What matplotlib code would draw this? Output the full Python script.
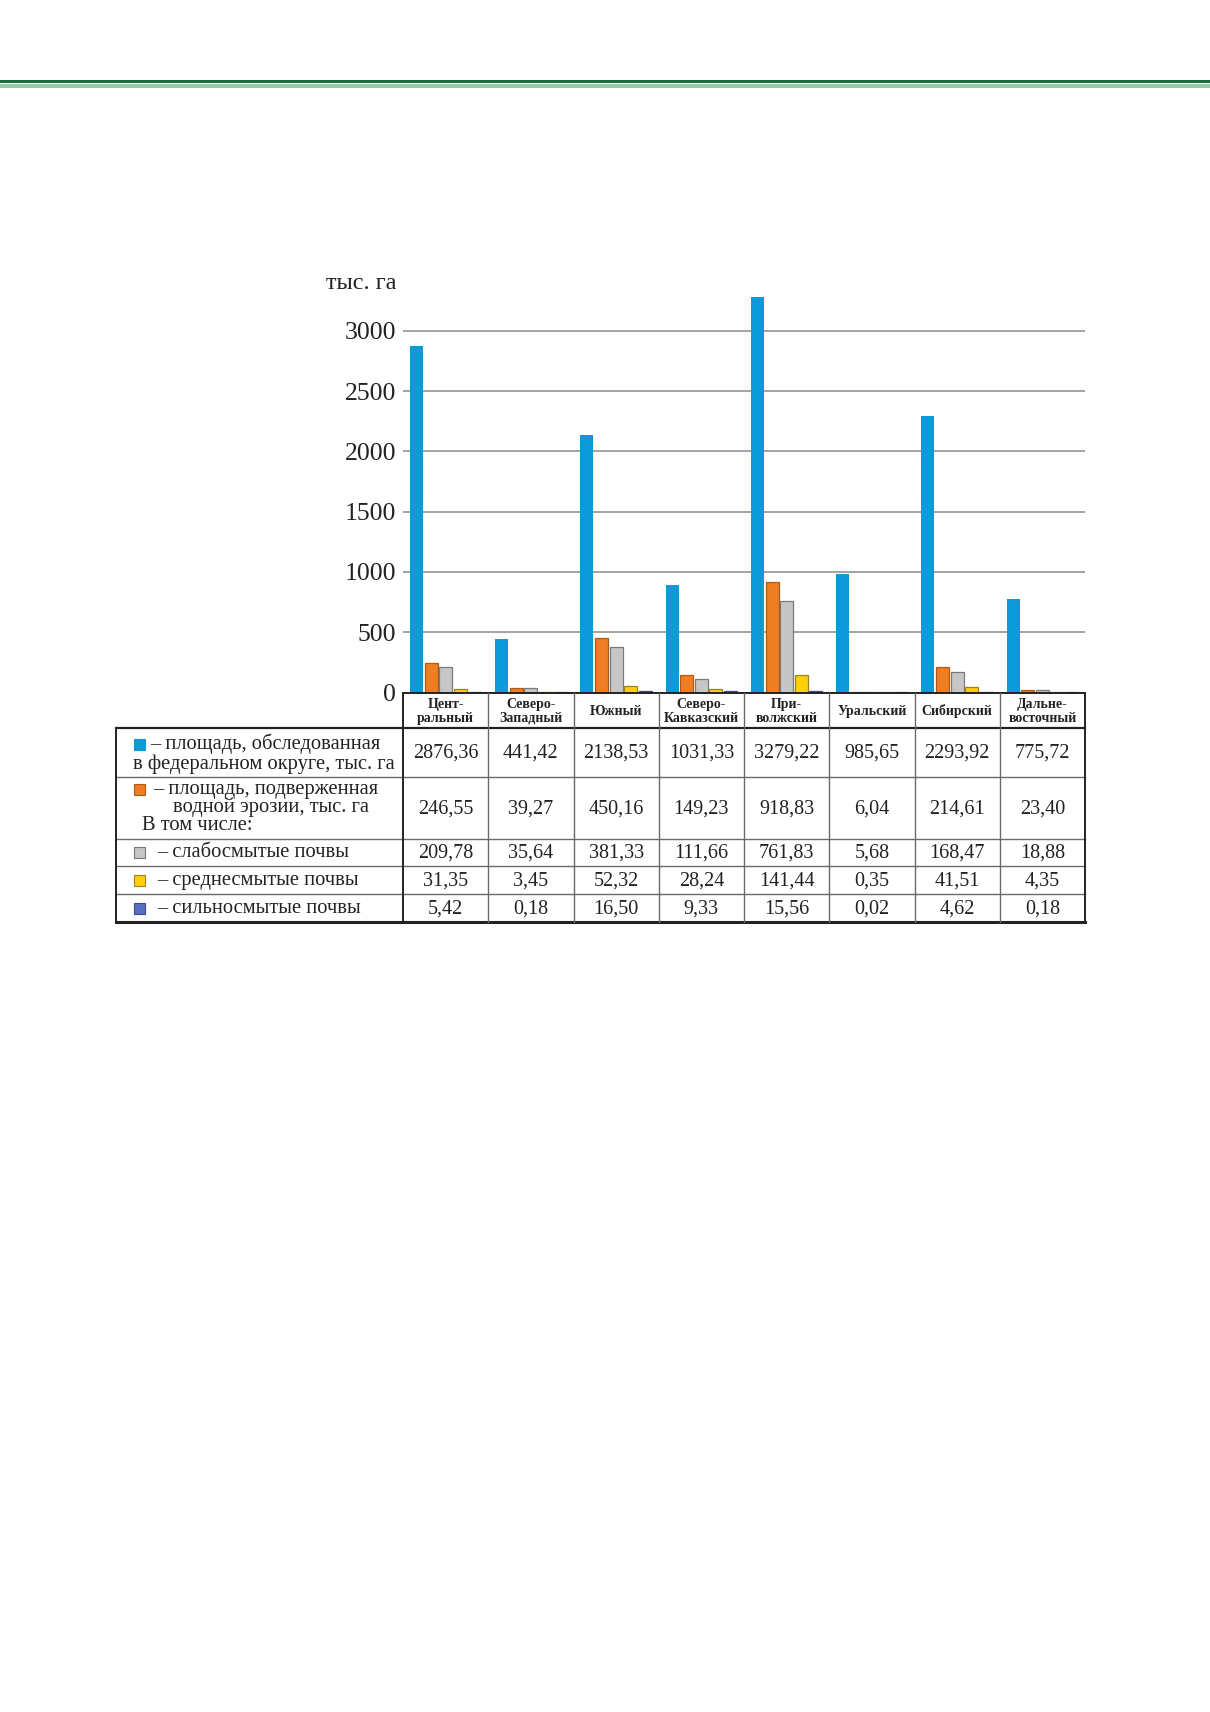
import matplotlib.pyplot as plt
import numpy as np

# регионы (заголовки столбцов таблицы)
districts = ['Цент-\nральный', 'Северо-\nЗападный', 'Южный', 'Северо-\nКавказский',
             'При-\nволжский', 'Уральский', 'Сибирский', 'Дальне-\nвосточный']

surveyed = [2876.36, 441.42, 2138.53, 1031.33, 3279.22, 985.65, 2293.92, 775.72]
# высота синего столбца для Сев.-Кавказского на рисунке ~890 (не совпадает с таблицей)
surveyed_bars = [2876.36, 441.42, 2138.53, 890, 3279.22, 985.65, 2293.92, 775.72]
eroded = [246.55, 39.27, 450.16, 149.23, 918.83, 6.04, 214.61, 23.40]
slight = [209.78, 35.64, 381.33, 111.66, 761.83, 5.68, 168.47, 18.88]
medium = [31.35, 3.45, 52.32, 28.24, 141.44, 0.35, 41.51, 4.35]
strong = [5.42, 0.18, 16.50, 9.33, 15.56, 0.02, 4.62, 0.18]

yticks = [0, 500, 1000, 1500, 2000, 2500, 3000]

colors = ['#0d9ad8', '#ef7d22', '#c6c6c6', '#ffcf0a', '#5a6fc4']
edges = ['#0d9ad8', '#b05a18', '#7a7a7a', '#9a8420', '#404a80']

W, H = 1210, 1712
SERIF = ['Liberation Serif', 'DejaVu Serif']
plt.rcParams['font.family'] = SERIF

fig = plt.figure(figsize=(W / 100, H / 100), dpi=100)

# пиксельная разметка
x_left, x_right = 403, 1085
y_zero = 692.5
px_per_500 = 60.3
ymax = 3500
y_top = y_zero - ymax / 500 * px_per_500

ax = fig.add_axes([x_left / W, 1 - y_zero / H, (x_right - x_left) / W, (y_zero - y_top) / H])
n = len(districts)
x = np.arange(n)
series = [surveyed_bars, eroded, slight, medium, strong]
pitch = 0.171
bw = 0.152
for k, vals in enumerate(series):
    ax.bar(x + (k - 2) * pitch, vals, width=bw, color=colors[k], edgecolor=edges[k],
           linewidth=0.9 if k > 0 else 0, zorder=3)
ax.set_xlim(-0.5, n - 0.5)
ax.set_ylim(0, ymax)
ax.set_yticks(yticks)
ax.set_yticklabels([str(t) for t in yticks], fontsize=18.5, color='#222222')
ax.tick_params(axis='y', length=0, pad=5)
ax.set_xticks([])
ax.grid(axis='y', color='#8a8a8a', linewidth=1.1, zorder=0)
for s in ax.spines.values():
    s.set_visible(False)
ax.set_facecolor('none')

# верхний колонтитул: зелёные линии
over = fig.add_axes([0, 0, 1, 1], zorder=5)
over.set_xlim(0, W)
over.set_ylim(H, 0)
over.axis('off')
over.add_patch(plt.Rectangle((0, 80), W, 3.2, color='#1c6b3c', lw=0))
over.plot([0, W], [84.6, 84.6], color='#7fbf98', lw=1.2)
over.plot([0, W], [86.8, 86.8], color='#7fbf98', lw=1.2)

over.text(396, 283, 'тыс. га', ha='right', va='center', fontsize=17.5, color='#222222')

# таблица
t_left = 116
col_w = (x_right - x_left) / n
row_y = [692.5, 728, 777, 839, 866, 894, 922]
grid_c = '#6a6a6a'
dark = '#222222'

# горизонтальные линии
over.plot([x_left, x_right], [row_y[0], row_y[0]], color=dark, lw=1.4)
over.plot([t_left, x_right], [row_y[1], row_y[1]], color=dark, lw=1.6)
for yy in row_y[2:-1]:
    over.plot([t_left, x_right], [yy, yy], color=grid_c, lw=1.0)
over.plot([t_left, x_right], [row_y[-1], row_y[-1]], color=dark, lw=2.2)
# вертикальные линии
over.plot([t_left, t_left], [row_y[1], row_y[-1]], color=dark, lw=1.4)
over.plot([x_left, x_left], [row_y[0], row_y[-1]], color=dark, lw=1.4)
for i in range(1, n):
    xx = x_left + i * col_w
    over.plot([xx, xx], [row_y[0], row_y[-1]], color=grid_c, lw=1.0)
over.plot([x_right, x_right], [row_y[0], row_y[-1]], color=dark, lw=1.4)

# заголовки регионов
for i, name in enumerate(districts):
    cx = x_left + (i + 0.5) * col_w
    over.text(cx, (row_y[0] + row_y[1]) / 2 + 1, name, ha='center', va='center',
              fontsize=10, fontweight='bold', color=dark, linespacing=1.1)

# значения
table_rows = [surveyed, eroded, slight, medium, strong]
for r, vals in enumerate(table_rows):
    cy = (row_y[r + 1] + row_y[r + 2]) / 2 + 1
    for i, v in enumerate(vals):
        cx = x_left + (i + 0.5) * col_w
        over.text(cx, cy, f'{v:.2f}'.replace('.', ','), ha='center', va='center',
                  fontsize=14.5, color=dark)

# подписи строк с цветными квадратами
def square(y, k):
    over.add_patch(plt.Rectangle((134, y - 5.5), 11, 11, facecolor=colors[k],
                                 edgecolor=edges[k] if k > 0 else colors[k], lw=0.8))

fs = 14.8
square(744, 0)
over.text(150, 744, '– площадь, обследованная', ha='left', va='center', fontsize=fs, color=dark)
over.text(133, 764, 'в федеральном округе, тыс. га', ha='left', va='center', fontsize=fs, color=dark)
square(789, 1)
over.text(153, 789, '– площадь, подверженная', ha='left', va='center', fontsize=fs, color=dark)
over.text(173, 807, 'водной эрозии, тыс. га', ha='left', va='center', fontsize=fs, color=dark)
over.text(142, 825, 'В том числе:', ha='left', va='center', fontsize=fs, color=dark)
square(852, 2)
over.text(157, 852, '– слабосмытые почвы', ha='left', va='center', fontsize=fs, color=dark)
square(880, 3)
over.text(157, 880, '– среднесмытые почвы', ha='left', va='center', fontsize=fs, color=dark)
square(908, 4)
over.text(157, 908, '– сильносмытые почвы', ha='left', va='center', fontsize=fs, color=dark)

fig.savefig('out.png', dpi=100, facecolor='white')
